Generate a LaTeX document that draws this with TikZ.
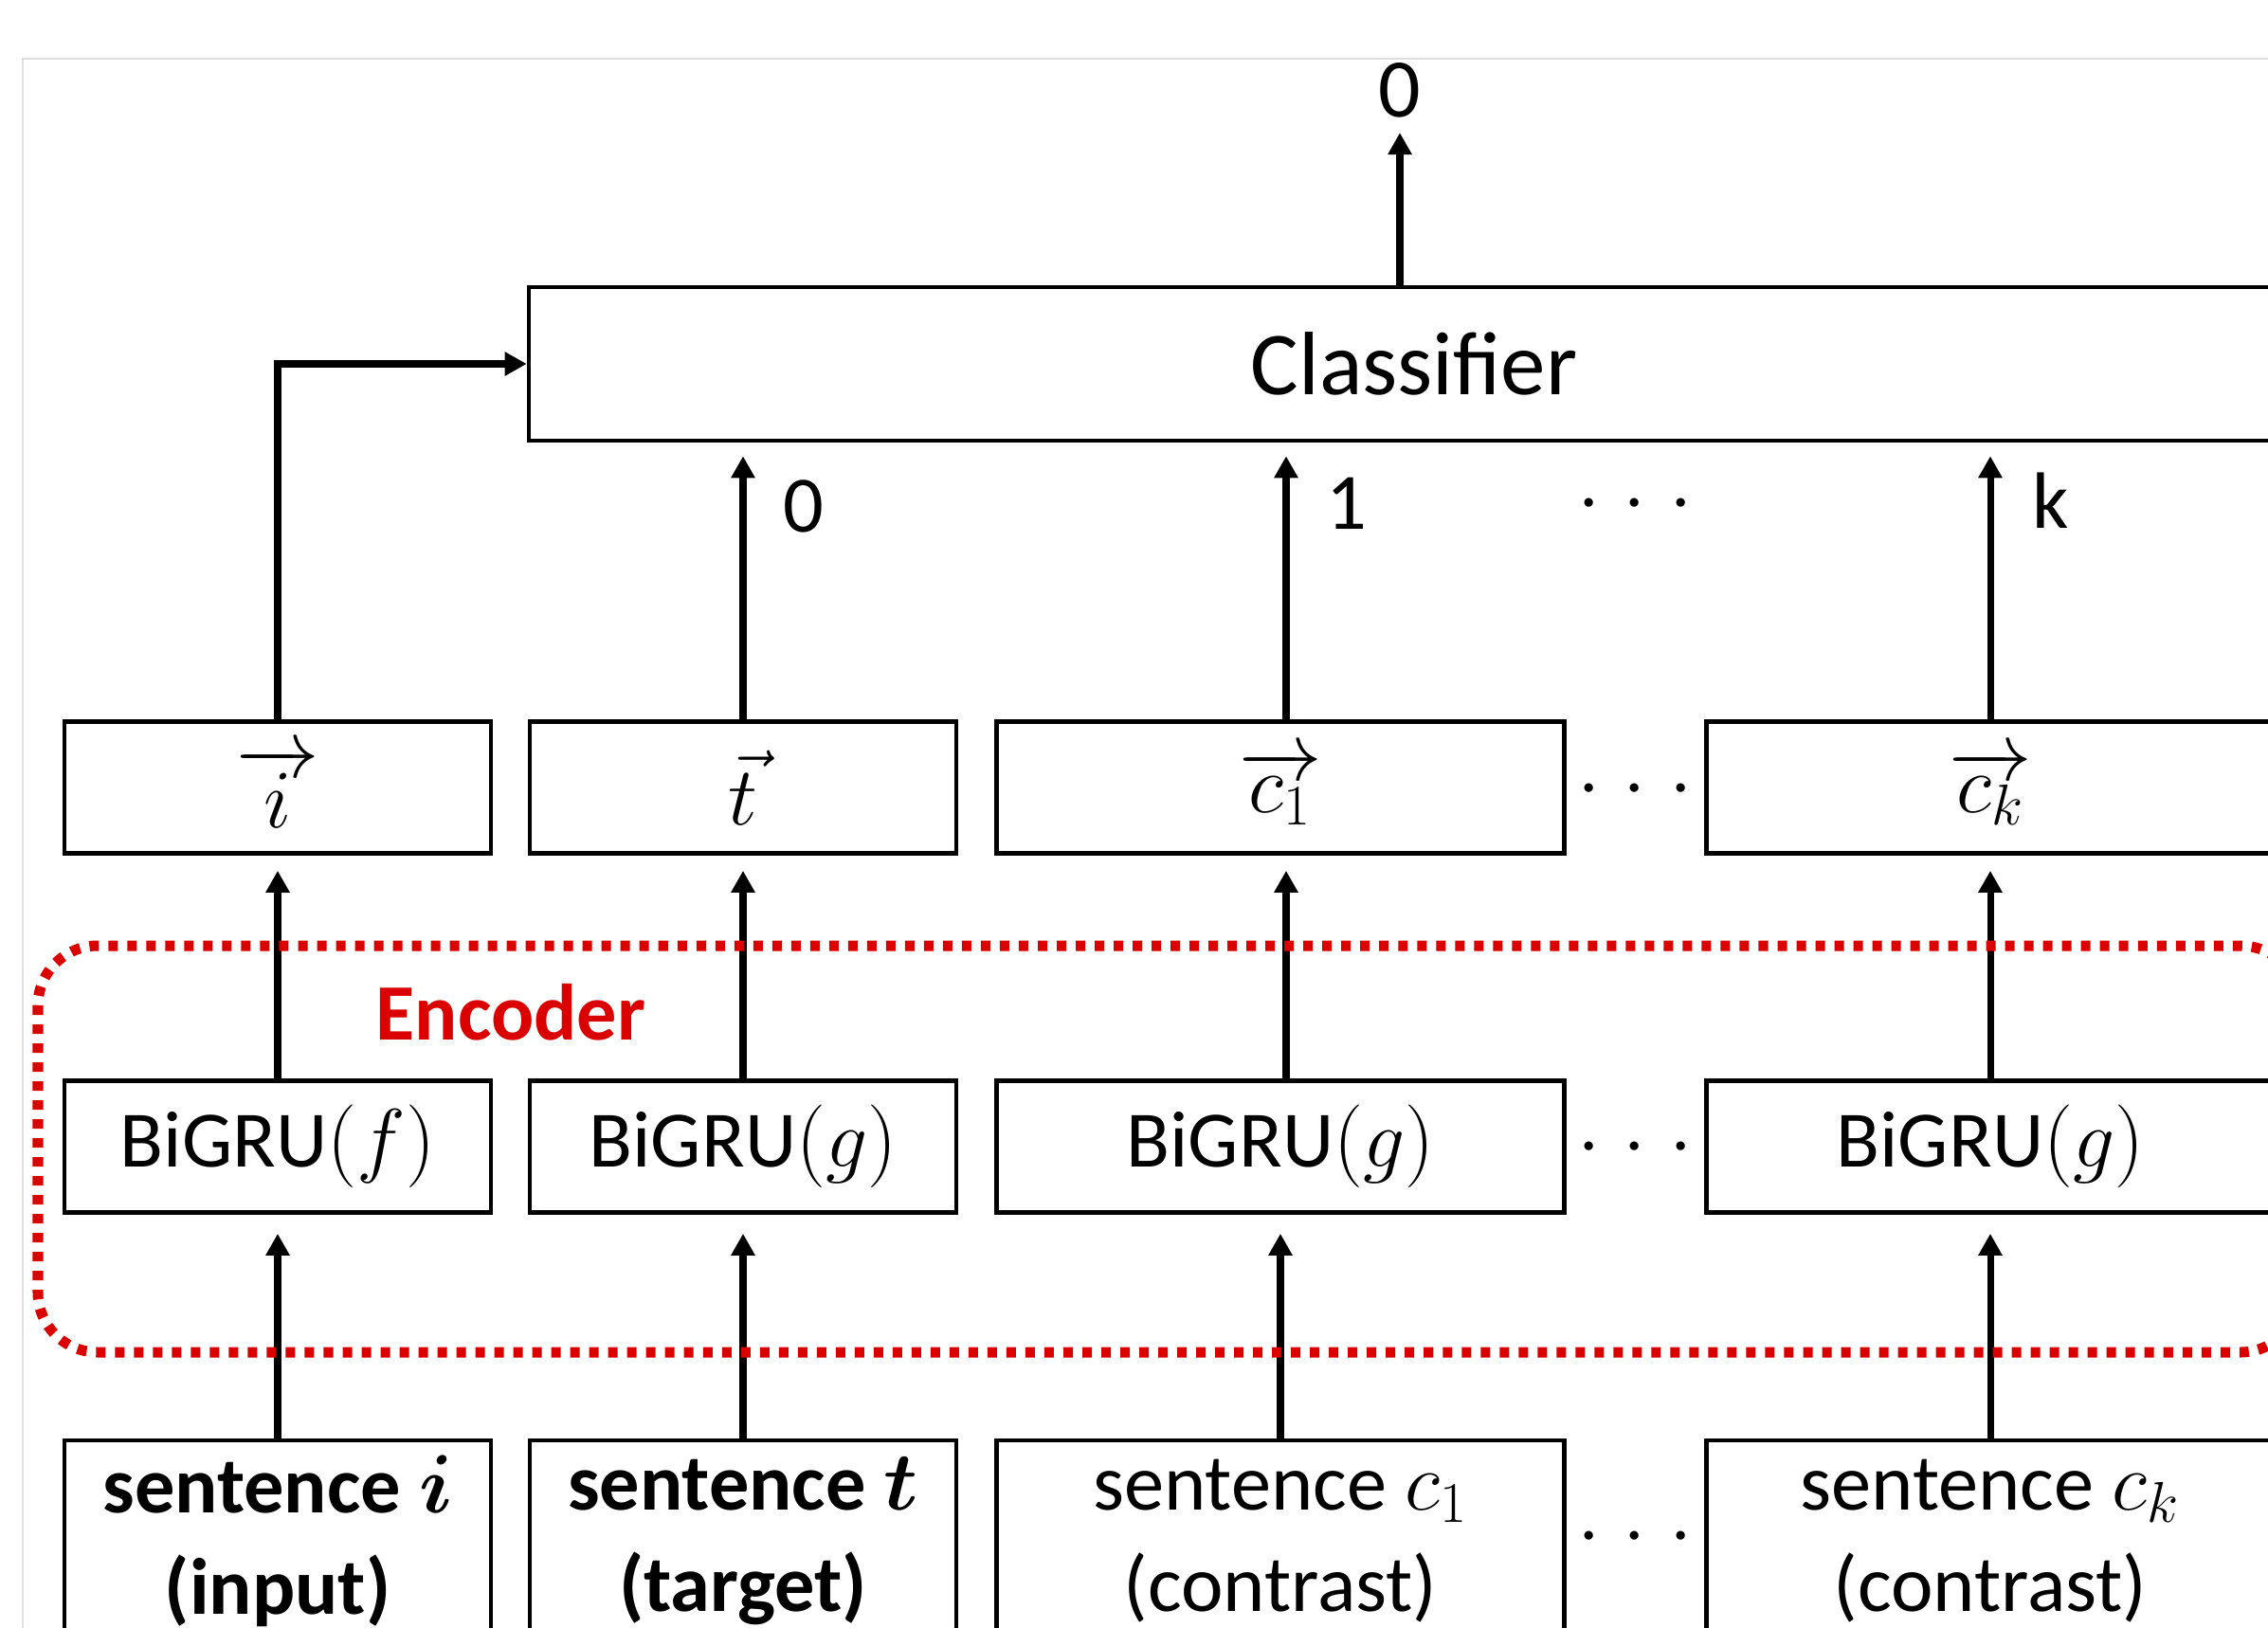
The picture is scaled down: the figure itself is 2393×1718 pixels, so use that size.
\documentclass[tikz,border=0pt]{standalone}
\usepackage{fontspec}
\setmainfont{Carlito}
\usepackage{bm}
\usetikzlibrary{arrows.meta,calc}
\definecolor{encred}{RGB}{218,0,0}
\definecolor{framegray}{RGB}{222,222,222}
\begin{document}
\begin{tikzpicture}[x=0.01cm,y=-0.01cm,
  box/.style={draw, line width=1.3pt, minimum height=1.39cm, inner sep=0pt, font=\fontsize{24}{30}\selectfont},
  narrow/.style={box, minimum width=4.50cm},
  wide/.style={box, minimum width=5.99cm},
  sent/.style={draw, line width=1.3pt, minimum height=2.12cm, inner sep=0pt, align=center, font=\fontsize{24}{30.5}\selectfont},
  sentn/.style={sent, minimum width=4.50cm},
  sentw/.style={sent, minimum width=5.99cm},
  arr/.style={-{Triangle[length=0.23cm,width=0.24cm]}, line width=2pt},
  lbl/.style={font=\fontsize{24}{30}\selectfont, inner sep=0pt},
  dotsty/.style={font=\fontsize{24}{30}\selectfont, inner sep=0pt, anchor=base},
  encline/.style={encred, line width=0.11cm, dash pattern=on 0.1cm off 0.1cm, rounded corners=0.63cm},
]
\useasboundingbox (0,0) rectangle (2393,1718);
\clip (0,0) rectangle (2393,1718);

% frame
\draw[framegray, line width=0.8pt] (24,1800) -- (24,62) -- (2500,62);

% classifier
\node[draw, line width=1.3pt, minimum width=18.67cm, minimum height=1.62cm, inner sep=0pt,
      font=\fontsize{27}{32}\selectfont] (cls) at (1492,384) {Classifier};
\node[font=\fontsize{25}{30}\selectfont, inner sep=0pt] (out) at (1477,95) {0};
\coordinate (outtip) at (1477,140);

% vector row
\node[narrow] (vi) at (293,831) {$\overrightarrow{i}$};
\node[narrow] (vt) at (784,831) {$\vec{t}$};
\node[wide] (vc1) at (1351,831) {$\overrightarrow{c_1}$};
\node[wide] (vck) at (2100,831) {$\overrightarrow{c_k}$};

% BiGRU row
\node[narrow] (gi) at (293,1210) {BiGRU$(f)$};
\node[narrow] (gt) at (784,1210) {BiGRU$(g)$};
\node[wide] (gc1) at (1351,1210) {BiGRU$(g)$};
\node[wide] (gck) at (2100,1210) {BiGRU$(g)$};

% sentence row
\node[sentn] (si) at (293,1626) {\textbf{sentence $\bm{i}$}\\\textbf{(input)}};
\node[sentn] (st) at (784,1626) {\textbf{sentence $\bm{t}$}\\\textbf{(target)}};
\node[sentw] (sc1) at (1351,1626) {sentence $c_1$\\(contrast)};
\node[sentw] (sck) at (2100,1626) {sentence $c_k$\\(contrast)};

% dots
\node[dotsty] (d0) at (1725,552) {${\cdot}\;{\cdot}\;{\cdot}$};
\node[dotsty] (d1) at (1725,853) {${\cdot}\;{\cdot}\;{\cdot}$};
\node[dotsty] (d2) at (1725,1231) {${\cdot}\;{\cdot}\;{\cdot}$};
\node[dotsty] (d3) at (1725,1642) {${\cdot}\;{\cdot}\;{\cdot}$};

% labels
\node[lbl] (l0) at (848,534) {0};
\node[lbl] (l1) at (1421,531) {1};
\node[lbl] (lk) at (2164,528) {k};

% arrows top
\draw[arr] (cls.north -| outtip) -- (outtip);
\draw[arr] (vi.north) |- (cls.west);
\draw[arr] (vt.north) -- ($(vt.north |- cls.south)+(0,14)$);
\draw[arr] ($(vc1.north)+(6,0)$) -- ($(vc1.north |- cls.south)+(6,14)$);
\draw[arr] (vck.north) -- ($(vck.north |- cls.south)+(0,14)$);

% arrows middle
\draw[arr] (gi.north) -- ($(vi.south)+(0,16)$);
\draw[arr] (gt.north) -- ($(vt.south)+(0,16)$);
\draw[arr] ($(gc1.north)+(6,0)$) -- ($(vc1.south)+(6,16)$);
\draw[arr] (gck.north) -- ($(vck.south)+(0,16)$);

% arrows bottom
\draw[arr] (si.north) -- ($(gi.south)+(0,20)$);
\draw[arr] (st.north) -- ($(gt.south)+(0,20)$);
\draw[arr] (sc1.north) -- ($(gc1.south)+(0,20)$);
\draw[arr] (sck.north) -- ($(gck.south)+(0,20)$);

% encoder
\draw[encline] (40,998) rectangle (2427,1427);
\node[font=\bfseries\fontsize{24}{30}\selectfont, text=encred, inner sep=0pt] (enc) at (539,1068) {Encoder};
\end{tikzpicture}
\end{document}
